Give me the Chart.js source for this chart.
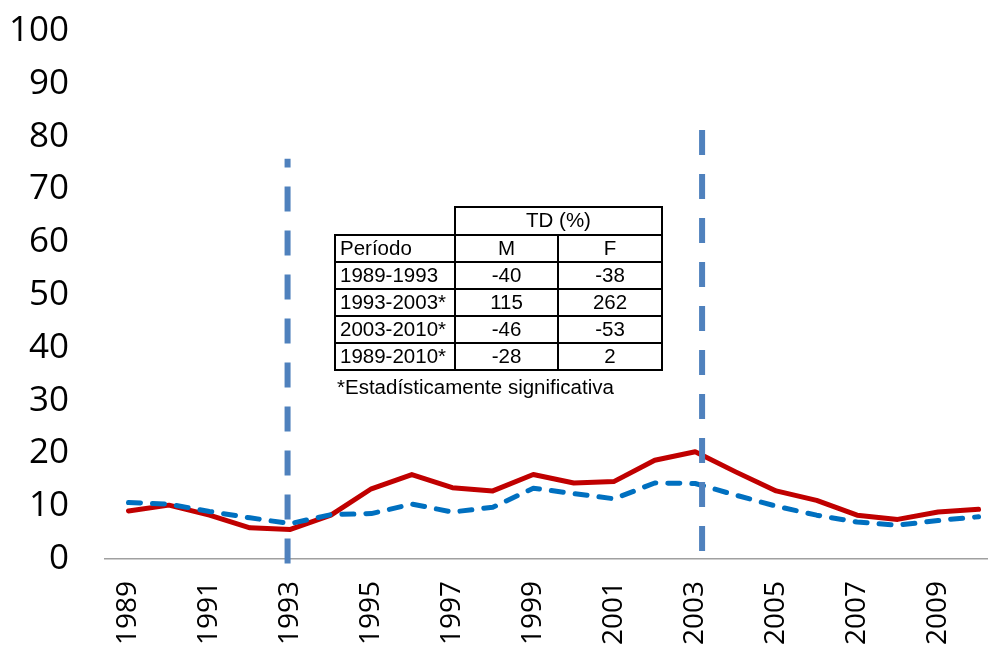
<!DOCTYPE html>
<html>
<head>
<meta charset="utf-8">
<script src="https://cdn.jsdelivr.net/npm/chart.js@4/dist/chart.umd.min.js"></script>
<style>
html,body{margin:0;padding:0;background:#fff;overflow:hidden;}
#wrap{position:relative;width:988px;height:649px;}
#chart{position:absolute;left:0;top:0;}
#tbl{position:absolute;left:335px;top:207px;width:330px;height:170px;font-family:"Liberation Sans",Arial,sans-serif;color:#000;}
#tbl .ln{position:absolute;background:#000;}
#tbl .cell{position:absolute;font-size:20.5px;white-space:nowrap;}
#note{position:absolute;left:337px;top:375px;font-family:"Liberation Sans",Arial,sans-serif;font-size:20.5px;line-height:24px;color:#000;white-space:nowrap;}
</style>
</head>
<body>
<div id="wrap">
  <canvas id="chart" width="988" height="649"></canvas>
  <div id="tbl"></div>
  <div id="note"></div>
</div>
<script>
// ---- data ----
const years = [1989,1990,1991,1992,1993,1994,1995,1996,1997,1998,1999,2000,2001,2002,2003,2004,2005,2006,2007,2008,2009,2010];
const femaleRate = [9.1,10.2,8.3,5.9,5.6,8.3,13.3,16.0,13.5,12.9,16.0,14.4,14.7,18.7,20.3,16.5,12.9,11.1,8.3,7.5,8.9,9.4];
const maleRate   = [10.7,10.4,9.0,7.8,6.7,8.4,8.6,10.4,8.9,9.8,13.4,12.4,11.4,14.4,14.3,12.1,10.0,8.3,7.0,6.4,7.3,8.0];
const xTickYears = [1989,1991,1993,1995,1997,1999,2001,2003,2005,2007,2009];
const yTicks = [0,10,20,30,40,50,60,70,80,90,100];
const breakYears = [1992.93, 2003.17];
const breakLow = [-0.85, 1.5];
const breakHigh = [75.8, 81.25];
// table
const tableTitle = 'TD (%)';
const tableHeader = ['Período','M','F'];
const periods = ['1989-1993','1993-2003*','2003-2010*','1989-2010*'];
const tdM = [-40,115,-46,-28];
const tdF = [-38,262,-53,2];
const footnote = '*Estadísticamente significativa';

// ---- table (HTML text) ----
(function(){
  const t = document.getElementById('tbl');
  const cols = [0,120,223,327];
  const rows = [0,28,55,82,109,136,163];
  const lw = 2;
  function line(x,y,w,h){const d=document.createElement('div');d.className='ln';d.style.left=x+'px';d.style.top=y+'px';d.style.width=w+'px';d.style.height=h+'px';t.appendChild(d);}
  line(cols[1]-1, rows[0]-1, cols[3]-cols[1]+lw, lw);
  for(let r=1;r<rows.length;r++) line(cols[0]-1, rows[r]-1, cols[3]-cols[0]+lw, lw);
  line(cols[0]-1, rows[1]-1, lw, rows[6]-rows[1]+lw);
  line(cols[1]-1, rows[0]-1, lw, rows[6]-rows[0]+lw);
  line(cols[2]-1, rows[1]-1, lw, rows[6]-rows[1]+lw);
  line(cols[3]-1, rows[0]-1, lw, rows[6]-rows[0]+lw);
  function cell(text,c0,c1,r,align){
    const d=document.createElement('div');d.className='cell';
    d.textContent=text;
    d.style.left=(cols[c0]+(align==='left'?5:0))+'px';
    d.style.width=(cols[c1]-cols[c0]-(align==='left'?5:0))+'px';
    d.style.top=(rows[r]-1)+'px';
    const h=rows[r+1]-rows[r];
    d.style.height=h+'px';d.style.lineHeight=h+'px';
    d.style.textAlign=align;
    t.appendChild(d);
  }
  cell(tableTitle,1,3,0,'center');
  cell(tableHeader[0],0,1,1,'left');
  cell(tableHeader[1],1,2,1,'center');
  cell(tableHeader[2],2,3,1,'center');
  for(let i=0;i<periods.length;i++){
    cell(periods[i],0,1,2+i,'left');
    cell(String(tdM[i]),1,2,2+i,'center');
    cell(String(tdF[i]),2,3,2+i,'center');
  }
  document.getElementById('note').textContent = footnote;
})();

// ---- chart ----
const toXY = arr => years.map((yr,i)=>({x:yr,y:arr[i]}));
const breakSets = breakYears.map((yr,i)=>({
  data:[{x:yr,y:breakLow[i]},{x:yr,y:breakHigh[i]}],
  borderColor:'#4f81bd', borderWidth:6, borderDash:[25,19], borderCapStyle:'butt',
  pointRadius:0, clip:false, order:0, tension:0
}));
new Chart(document.getElementById('chart').getContext('2d'), {
  type:'line',
  data:{
    datasets:[
      ...breakSets,
      {label:'M', data:toXY(maleRate), borderColor:'#0070c0', borderWidth:5, borderDash:[12,12], borderCapStyle:'round', borderJoinStyle:'round', pointRadius:0, order:1, tension:0},
      {label:'F', data:toXY(femaleRate), borderColor:'#c00000', borderWidth:5, borderCapStyle:'round', borderJoinStyle:'round', pointRadius:0, order:2, tension:0}
    ]
  },
  options:{
    responsive:false, animation:false, devicePixelRatio:1,
    layout:{padding:{top:31,left:0,right:0,bottom:0}},
    plugins:{legend:{display:false}, tooltip:{enabled:false}},
    scales:{
      x:{
        type:'linear', min:1988.42, max:2010.233,
        afterBuildTicks:s=>{s.ticks = xTickYears.map(v=>({value:v}));},
        afterFit:s=>{s.height = 90; s.paddingLeft = 0; s.paddingRight = 0;},
        grid:{display:false, drawTicks:false},
        border:{display:true, color:'#a0a0a0', width:1.5},
        ticks:{autoSkip:false, minRotation:90, maxRotation:90, padding:22, color:'#000',
          font:{family:'"Open Sans"', size:28}, callback:v=>String(v)}
      },
      y:{
        type:'linear', min:0, max:100,
        afterBuildTicks:s=>{s.ticks = yTicks.map(v=>({value:v}));},
        afterFit:s=>{s.width = 105; s.paddingTop = 0; s.paddingBottom = 0;},
        grid:{display:false, drawTicks:false},
        border:{display:false},
        ticks:{padding:36, color:'#000', font:{family:'"Open Sans"', size:35}, callback:v=>String(v)}
      }
    }
  }
});
</script>
</body>
</html>
